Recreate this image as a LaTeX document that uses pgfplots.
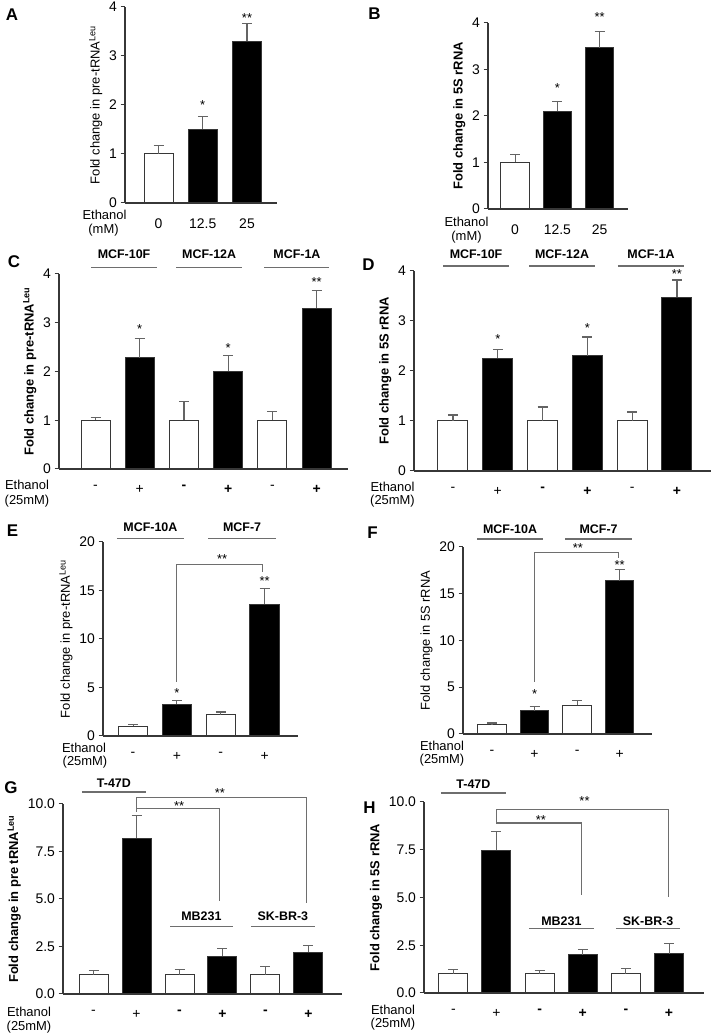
\documentclass[border=0pt]{standalone}
\usepackage{pgfplots}
\pgfplotsset{compat=1.18}
\usepackage{fontspec}
\setmainfont{Liberation Sans}
\definecolor{axc}{RGB}{55,55,55}
\definecolor{erc}{RGB}{100,100,100}
\definecolor{lnc}{RGB}{110,110,110}
\newcommand{\fs}{\fontsize{13}{15}\selectfont}
\newcommand{\ft}{\fontsize{14}{16}\selectfont}
\newcommand{\fb}{\fontsize{12.5}{15}\selectfont\bfseries}
\pgfplotsset{
  panel/.style={
    scale only axis, anchor=south west, clip=false,
    axis x line*=bottom, axis y line*=left,
    axis line style={axc, line width=1.1bp},
    ybar, bar shift=0pt, bar width=29bp,
    ymin=0,
    xtick style={draw=none},
    ytick style={axc, line width=1bp},
    tick align=outside, major tick length=4.5bp,
    tick label style={font=\ft},
    ylabel style={font=\fs},
    /pgf/number format/assume math mode=true,
    xticklabel style={yshift=-8bp},
  },
  eb/.style={line width=1bp, draw=axc,
     error bars/y dir=plus, error bars/y explicit,
     error bars/error bar style={erc, line width=1.1bp},
     error bars/error mark options={erc, line width=1.1bp, mark size=5bp, rotate=90}},
  wb/.style={eb, fill=white},
  bb/.style={eb, fill=black},
}
\tikzset{
  st/.style={font=\fontsize{13}{14}\selectfont, inner sep=0pt, yshift=-3bp},
  gl/.style={lnc, line width=1.1bp},
  gt/.style={font=\fb, inner sep=0pt},
}
\begin{document}
\begin{tikzpicture}[x=1bp,y=1bp]
\useasboundingbox (0,0) rectangle (712,1034);

% ---------------- A
\begin{axis}[panel, at={(125bp,831bp)}, width=152bp, height=196bp,
  xmin=-0.757, xmax=2.678, ymax=4, ytick={0,1,2,3,4},
  xtick={0,1,2}, xticklabels={{0},{12.5},{25}},
  ylabel={Fold change in pre-tRNA\textsuperscript{Leu}}]
\addplot[wb] coordinates {(0,1.0) +- (0,0.18)};
\addplot[bb] coordinates {(1,1.5) +- (0,0.27) (2,3.3) +- (0,0.37)};
\node[st] at (axis cs:1,2.06) {*};
\node[st] at (axis cs:2,3.84) {**};
\end{axis}

% ---------------- B
\begin{axis}[panel, at={(488bp,825bp)}, width=140bp, height=186bp, bar width=28.5bp,
  xmin=-0.64, xmax=2.67, ymax=4, ytick={0,1,2,3,4},
  xtick={0,1,2}, xticklabels={{0},{12.5},{25}},
  ylabel={\bfseries Fold change in 5S rRNA}]
\addplot[wb] coordinates {(0,1.0) +- (0,0.17)};
\addplot[bb] coordinates {(1,2.1) +- (0,0.21) (2,3.47) +- (0,0.35)};
\node[st] at (axis cs:1,2.67) {*};
\node[st] at (axis cs:2,4.2) {**};
\end{axis}

% ---------------- C
\begin{axis}[panel, at={(59bp,565bp)}, width=289bp, height=195bp,
  xmin=-0.826, xmax=5.71, ymax=4, ytick={0,1,2,3,4},
  xtick={0,...,5}, xticklabels={{-},{+},{\bfseries -},{\bfseries +},{-},{\bfseries +}},
  ylabel={\bfseries Fold change in pre-tRNA\textsuperscript{Leu}}]
\addplot[wb] coordinates {(0,1.0) +- (0,0.06) (2,1.0) +- (0,0.38) (4,1.0) +- (0,0.17)};
\addplot[bb] coordinates {(1,2.28) +- (0,0.40) (3,2.0) +- (0,0.33) (5,3.3) +- (0,0.37)};
\node[st] at (axis cs:1,2.93) {*};
\node[st] at (axis cs:3,2.55) {*};
\node[st] at (axis cs:5,3.9) {**};
\draw[gl] (axis cs:-0.10,4.14) -- (axis cs:1.39,4.14);
\draw[gl] (axis cs:1.82,4.14) -- (axis cs:3.32,4.14);
\draw[gl] (axis cs:3.82,4.14) -- (axis cs:5.29,4.14);
\node[gt] at (axis cs:0.645,4.41) {MCF-10F};
\node[gt] at (axis cs:2.57,4.41) {MCF-12A};
\node[gt] at (axis cs:4.555,4.41) {MCF-1A};
\end{axis}

% ---------------- D
\begin{axis}[panel, at={(414bp,563bp)}, width=297bp, height=200bp, bar width=30bp,
  xmin=-0.87, xmax=5.76, ymax=4, ytick={0,1,2,3,4},
  xtick={0,...,5}, xticklabels={{-},{+},{\bfseries -},{\bfseries +},{-},{\bfseries +}},
  ylabel={\bfseries Fold change in 5S rRNA}]
\addplot[wb] coordinates {(0,1.0) +- (0,0.12) (2,1.0) +- (0,0.28) (4,1.0) +- (0,0.18)};
\addplot[bb] coordinates {(1,2.25) +- (0,0.18) (3,2.3) +- (0,0.38) (5,3.47) +- (0,0.35)};
\node[st] at (axis cs:1,2.69) {*};
\node[st] at (axis cs:3,2.92) {*};
\node[st] at (axis cs:5,3.99) {**};
\draw[gl] (axis cs:-0.22,4.1) -- (axis cs:1.25,4.1);
\draw[gl] (axis cs:1.70,4.1) -- (axis cs:3.17,4.1);
\draw[gl] (axis cs:3.68,4.1) -- (axis cs:5.16,4.1);
\node[gt] at (axis cs:0.515,4.34) {MCF-10F};
\node[gt] at (axis cs:2.435,4.34) {MCF-12A};
\node[gt] at (axis cs:4.42,4.34) {MCF-1A};
\end{axis}

% ---------------- E
\begin{axis}[panel, at={(103bp,298bp)}, width=195bp, height=194bp, bar width=29.5bp,
  xmin=-0.685, xmax=3.76, ymax=20, ytick={0,5,10,15,20},
  xtick={0,...,3}, xticklabels={{-},{+},{-},{+}},
  ylabel={Fold change in pre-tRNA\textsuperscript{Leu}}]
\addplot[wb] coordinates {(0,1.0) +- (0,0.17) (2,2.2) +- (0,0.27)};
\addplot[bb] coordinates {(1,3.26) +- (0,0.38) (3,13.57) +- (0,1.62)};
\node[st] at (axis cs:1,4.78) {*};
\node[st] at (axis cs:3,16.3) {**};
\draw[gl] (axis cs:1,5.57) -- (axis cs:1,17.7) -- (axis cs:2.95,17.7) -- (axis cs:2.95,16.9);
\node[st] at (axis cs:2.03,18.6) {**};
\draw[gl] (axis cs:-0.37,20.4) -- (axis cs:1.16,20.4);
\draw[gl] (axis cs:1.71,20.4) -- (axis cs:3.26,20.4);
\node[gt] at (axis cs:0.395,21.5) {MCF-10A};
\node[gt] at (axis cs:2.485,21.5) {MCF-7};
\end{axis}

% ---------------- F
\begin{axis}[panel, at={(463bp,300bp)}, width=189bp, height=187bp, bar width=28.5bp,
  xmin=-0.68, xmax=3.76, ymax=20, ytick={0,5,10,15,20},
  xtick={0,...,3}, xticklabels={{-},{+},{-},{+}},
  ylabel={Fold change in 5S rRNA}]
\addplot[wb] coordinates {(0,1.0) +- (0,0.18) (2,3.06) +- (0,0.54)};
\addplot[bb] coordinates {(1,2.49) +- (0,0.46) (3,16.38) +- (0,1.2)};
\node[st] at (axis cs:1,4.55) {*};
\node[st] at (axis cs:3,18.4) {**};
\draw[gl] (axis cs:1,5.6) -- (axis cs:1,19.4) -- (axis cs:2.97,19.4) -- (axis cs:2.97,18.8);
\node[st] at (axis cs:2.02,20.2) {**};
\draw[gl] (axis cs:-0.35,20.85) -- (axis cs:1.2,20.85);
\draw[gl] (axis cs:1.72,20.85) -- (axis cs:3.29,20.85);
\node[gt] at (axis cs:0.425,21.9) {MCF-10A};
\node[gt] at (axis cs:2.505,21.9) {MCF-7};
\end{axis}

% ---------------- G
\begin{axis}[panel, at={(63bp,40bp)}, width=279bp, height=190bp,
  xmin=-0.71, xmax=5.78, ymax=10, ytick={0,2.5,5,7.5,10},
  yticklabel style={/pgf/number format/.cd, fixed, fixed zerofill, precision=1},
  xtick={0,...,5}, xticklabels={{-},{+},{\bfseries -},{\bfseries +},{\bfseries -},{\bfseries +}},
  ylabel={\bfseries Fold change in pre tRNA\textsuperscript{Leu}}]
\addplot[wb] coordinates {(0,1.0) +- (0,0.25) (2,1.0) +- (0,0.3) (4,1.0) +- (0,0.45)};
\addplot[bb] coordinates {(1,8.2) +- (0,1.2) (3,1.98) +- (0,0.4) (5,2.19) +- (0,0.37)};
\draw[gl] (axis cs:1,9.6) -- (axis cs:1,10.33) -- (axis cs:4.96,10.33) -- (axis cs:4.96,4.78);
\draw[gl] (axis cs:1,9.77) -- (axis cs:2.94,9.77) -- (axis cs:2.94,4.9);
\node[st] at (axis cs:1.99,10.05) {**};
\node[st] at (axis cs:2.94,10.75) {**};
\draw[gl] (axis cs:-0.27,10.63) -- (axis cs:1.22,10.63);
\node[gt] at (axis cs:0.475,11.09) {T-47D};
\draw[gl] (axis cs:1.78,3.53) -- (axis cs:3.24,3.53);
\draw[gl] (axis cs:3.66,3.53) -- (axis cs:5.15,3.53);
\node[gt] at (axis cs:2.51,4.09) {MB231};
\node[gt] at (axis cs:4.405,4.09) {SK-BR-3};
\end{axis}

% ---------------- H
\begin{axis}[panel, at={(424bp,41bp)}, width=280bp, height=191bp,
  xmin=-0.68, xmax=5.81, ymax=10, ytick={0,2.5,5,7.5,10},
  yticklabel style={/pgf/number format/.cd, fixed, fixed zerofill, precision=1},
  xtick={0,...,5}, xticklabels={{-},{+},{\bfseries -},{\bfseries +},{\bfseries -},{\bfseries +}},
  ylabel={\bfseries Fold change in 5S rRNA}]
\addplot[wb] coordinates {(0,1.0) +- (0,0.25) (2,1.0) +- (0,0.19) (4,1.0) +- (0,0.26)};
\addplot[bb] coordinates {(1,7.47) +- (0,1.0) (3,2.0) +- (0,0.3) (5,2.06) +- (0,0.52)};
\draw[gl] (axis cs:1,8.85) -- (axis cs:1,9.6) -- (axis cs:4.98,9.6) -- (axis cs:4.98,5.0);
\draw[gl] (axis cs:1,8.9) -- (axis cs:2.96,8.9) -- (axis cs:2.96,5.15);
\node[st] at (axis cs:2.03,9.2) {**};
\node[st] at (axis cs:3.04,10.2) {**};
\draw[gl] (axis cs:-0.29,10.47) -- (axis cs:1.22,10.47);
\node[gt] at (axis cs:0.465,10.92) {T-47D};
\draw[gl] (axis cs:1.75,3.4) -- (axis cs:3.26,3.4);
\draw[gl] (axis cs:3.77,3.4) -- (axis cs:5.26,3.4);
\node[gt] at (axis cs:2.505,3.77) {MB231};
\node[gt] at (axis cs:4.515,3.77) {SK-BR-3};
\end{axis}

% ---------------- panel letters
\begin{scope}[every node/.style={font=\fontsize{17}{17}\selectfont\bfseries, inner sep=0pt}]
\node at (12,1019.5) {A};
\node at (374.5,1020.7) {B};
\node at (14,772) {C};
\node at (368.5,769) {D};
\node at (12.5,503) {E};
\node at (372.5,501.5) {F};
\node at (11,246.5) {G};
\node at (369.5,226) {H};
\end{scope}

% ---------------- Ethanol labels
\begin{scope}[every node/.style={font=\fs, inner sep=0pt}]
\node at (104.5,819.5) {Ethanol}; \node at (103.5,804) {(mM)};
\node at (466.5,812) {Ethanol}; \node at (466.5,797) {(mM)};
\node at (27,549) {Ethanol}; \node at (27,533) {(25mM)};
\node at (392.5,547.5) {Ethanol}; \node at (392.5,533) {(25mM)};
\node at (84,286.5) {Ethanol}; \node at (85,272) {(25mM)};
\node at (442,288.5) {Ethanol}; \node at (442,273.5) {(25mM)};
\node at (29,22) {Ethanol}; \node at (29,7) {(25mM)};
\node at (393,24.3) {Ethanol}; \node at (393,9.5) {(25mM)};
\end{scope}
\end{tikzpicture}
\end{document}
